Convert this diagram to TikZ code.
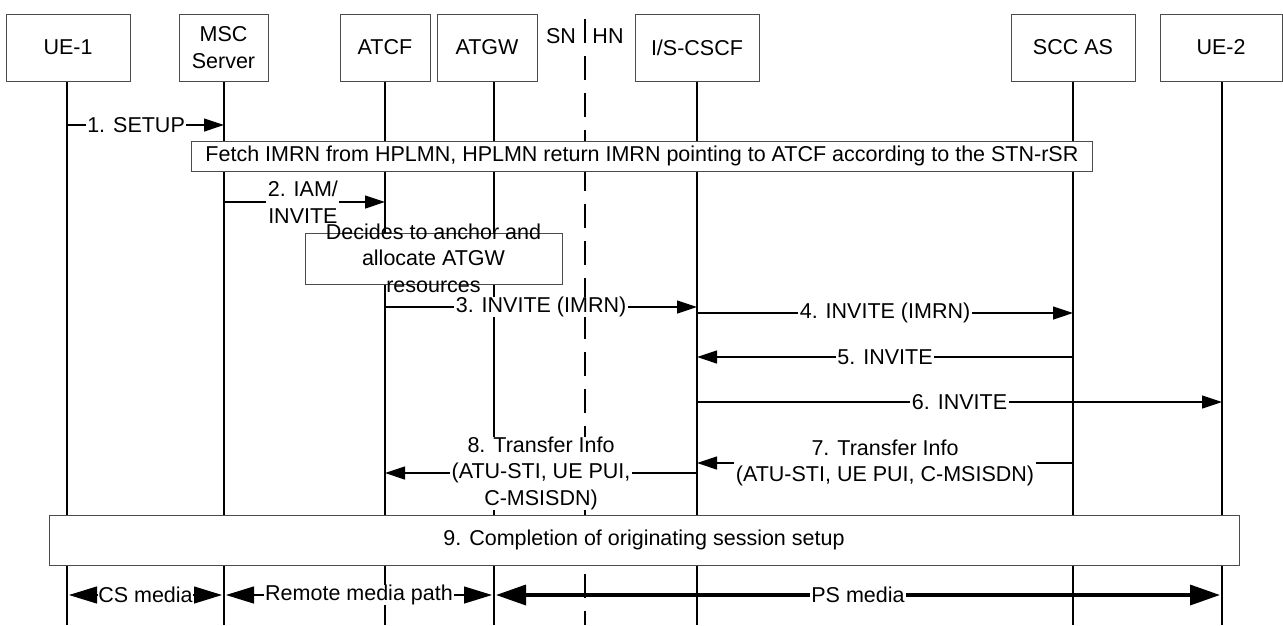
\documentclass[tikz,border=0pt]{standalone}
\usepackage{fontspec}
\setmainfont{Liberation Sans}
\usetikzlibrary{arrows.meta}
\begin{document}
\begin{tikzpicture}[x=1pt,y=-1pt,
  every node/.style={font=\fontsize{21.5pt}{26.5pt}\selectfont},
  hdr/.style={draw=black!70, line width=0.9pt, fill=white, minimum height=67pt, inner sep=0pt, align=center},
  box/.style={draw=black!70, line width=0.9pt, fill=white, inner sep=0pt, align=center},
  life/.style={line width=1.2pt},
  divider/.style={line width=1.2pt, dash pattern=on 24pt off 13pt},
  msg/.style={line width=1.2pt, -{Triangle[length=20pt,width=13pt]}},
  lbl/.style={fill=white, inner xsep=1.5pt, inner ysep=0pt, align=center},
  media/.style={line width=1.2pt, shorten <=2pt, shorten >=2pt, {Triangle[length=28pt,width=17pt]}-{Triangle[length=28pt,width=17pt]}},
  psmedia/.style={line width=3.5pt, shorten <=2pt, shorten >=2pt, {Triangle[length=30pt,width=20pt]}-{Triangle[length=30pt,width=20pt]}}
]
\useasboundingbox (0,0) rectangle (1283,625);

% lifeline anchors
\coordinate (l1) at (67,81);
\coordinate (l2) at (224,81);
\coordinate (l3) at (385,81);
\coordinate (l4) at (494,81);
\coordinate (l6) at (697,81);
\coordinate (l7) at (1073,81);
\coordinate (l8) at (1222,81);
\coordinate (div) at (585,19);

\draw[divider] (div) -- (div |- 0,625);
\foreach \c in {l1,l2,l3,l4,l6,l7,l8} \draw[life] (\c) -- (\c |- 0,625);

% headers
\node[hdr, minimum width=124pt] (ue1) at (68,47.5) {UE-1};
\node[hdr, minimum width=89pt] (msc) at (223.5,47.5) {MSC\\Server};
\node[hdr, minimum width=90pt] (atcf) at (385,47.5) {ATCF};
\node[hdr, minimum width=100pt] (atgw) at (487,47.5) {ATGW};
\node[hdr, minimum width=124pt] (cscf) at (697,47.5) {I/S-CSCF};
\node[hdr, minimum width=124pt] (scc) at (1073,47.5) {SCC AS};
\node[hdr, minimum width=122pt] (ue2) at (1221,47.5) {UE-2};
\node[fill=white, inner sep=1pt] (sn) at (561,36) {SN};
\node[fill=white, inner sep=1pt] (hn) at (608,36) {HN};

% messages
\draw[msg] (l1 |- 0,125) -- node[lbl, pos=0.44] (m1) {1. SETUP} (l2 |- 0,125);

\node[box, anchor=west, inner xsep=14pt, minimum height=30pt] (fetch) at (191,156)
  {Fetch IMRN from HPLMN, HPLMN return IMRN pointing to ATCF according to the STN-rSR};

\draw[msg] (l2 |- 0,202) -- node[lbl, pos=0.49] (m2) {2. IAM/\\INVITE} (l3 |- 0,202);

\node[box, minimum width=257pt, minimum height=51pt] (dbox) at (433.5,258.5) {};
\node[align=center, inner sep=0pt] (dtext) at (433.5,258) {Decides to anchor and\\allocate ATGW\\resources};

\draw[msg] (l3 |- 0,307) -- node[lbl] (m3) {3. INVITE (IMRN)} (l6 |- 0,307);
\draw[msg] (l6 |- 0,313) -- node[lbl] (m4) {4. INVITE (IMRN)} (l7 |- 0,313);
\draw[msg] (l7 |- 0,357) -- node[lbl] (m5) {5. INVITE} (l6 |- 0,357);
\draw[msg] (l6 |- 0,402) -- node[lbl] (m6) {6. INVITE} (l8 |- 0,402);
\draw[msg] (l7 |- 0,463) -- node[lbl] (m7) {7. Transfer Info\\(ATU-STI, UE PUI, C-MSISDN)} (l6 |- 0,463);
\draw[msg] (l6 |- 0,473) -- node[lbl] (m8) {8. Transfer Info\\(ATU-STI, UE PUI,\\C-MSISDN)} (l3 |- 0,473);

\node[box, minimum width=1190pt, minimum height=50pt] (done) at (644,540)
  {9. Completion of originating session setup};

% media
\draw[media] (l1 |- 0,595) -- node[lbl, inner xsep=0pt] (cs) {CS media} (l2 |- 0,595);
\draw[media] (l2 |- 0,595) -- node[lbl] (rm) {Remote media path} (l4 |- 0,595);
\draw[psmedia] (l4 |- 0,595) -- node[lbl] (ps) {PS media} (l8 |- 0,595);
\end{tikzpicture}
\end{document}
